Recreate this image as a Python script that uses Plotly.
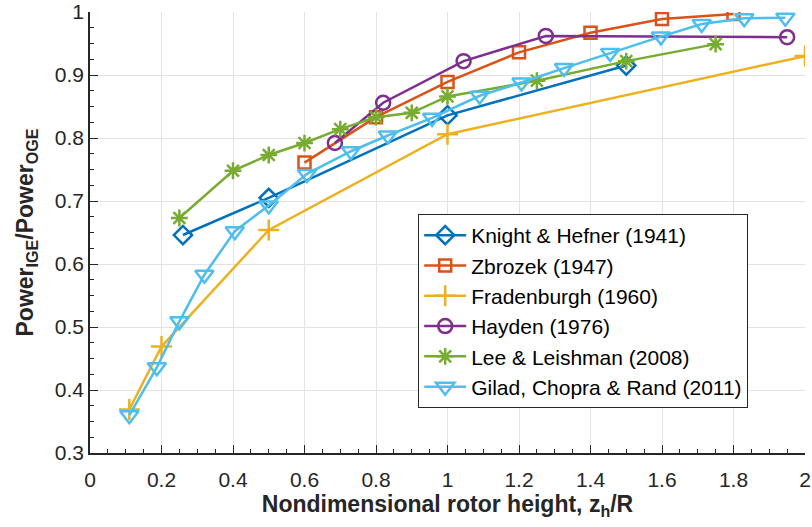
import plotly.graph_objects as go

# ---- data ----
knight_x = [0.26, 0.5, 1.0, 1.5]
knight_y = [0.646, 0.705, 0.836, 0.915]

zbrozek_x = [0.6, 0.8, 1.0, 1.2, 1.4, 1.6, 1.8]
zbrozek_y = [0.761, 0.833, 0.889, 0.936, 0.967, 0.989, 0.997]

frad_x = [0.11, 0.2, 0.5, 1.0, 2.0]
frad_y = [0.369, 0.469, 0.654, 0.806, 0.930]

hayden_x = [0.685, 0.82, 1.045, 1.275, 1.95]
hayden_y = [0.792, 0.856, 0.922, 0.962, 0.960]

lee_x = [0.25, 0.4, 0.5, 0.6, 0.7, 0.8, 0.9, 1.0, 1.25, 1.5, 1.75]
lee_y = [0.673, 0.748, 0.773, 0.792, 0.814, 0.833, 0.840, 0.866, 0.891, 0.922, 0.949]

gilad_x = [0.11, 0.187, 0.25, 0.32, 0.405, 0.5, 0.607, 0.73, 0.833, 0.957,
           1.09, 1.207, 1.326, 1.455, 1.597, 1.711, 1.83, 1.945]
gilad_y = [0.360, 0.436, 0.509, 0.583, 0.652, 0.693, 0.743, 0.779, 0.804, 0.832,
           0.867, 0.888, 0.911, 0.935, 0.961, 0.981, 0.990, 0.991]

names = ["Knight & Hefner (1941)", "Zbrozek (1947)", "Fradenburgh (1960)",
         "Hayden (1976)", "Lee & Leishman (2008)", "Gilad, Chopra & Rand (2011)"]
colors = ["#0072BD", "#D95319", "#EDB120", "#7E2F8E", "#77AC30", "#4DBEEE"]
symbols = ["diamond-open", "square-open", "cross-thin-open", "circle-open",
           "asterisk-open", "triangle-down-open"]
sizes = [14, 12, 15, 14, 14, 16]

series = [(knight_x, knight_y), (zbrozek_x, zbrozek_y), (frad_x, frad_y),
          (hayden_x, hayden_y), (lee_x, lee_y), (gilad_x, gilad_y)]

fig = go.Figure()
for (xs, ys), n, c, s, sz in zip(series, names, colors, symbols, sizes):
    fig.add_trace(go.Scatter(
        x=xs, y=ys, mode="lines+markers", name=n,
        line=dict(color=c, width=2.5),
        marker=dict(symbol=s, size=sz, color=c, line=dict(color=c, width=2.5)),
    ))

axcol = "#262626"
fig.update_layout(
    width=812, height=527,
    margin=dict(l=90, r=7, t=12, b=74, autoexpand=False),
    plot_bgcolor="white", paper_bgcolor="white",
    font=dict(family="Liberation Sans, Arial, sans-serif", size=21, color=axcol),
    showlegend=True,
    legend=dict(
        x=0.459, y=0.322, xanchor="left", yanchor="middle",
        bordercolor="#262626", borderwidth=1, bgcolor="white",
        font=dict(size=21, color="black"),
        tracegroupgap=0, itemwidth=42,
    ),
)
fig.update_xaxes(
    range=[0, 2], dtick=0.2, tick0=0, automargin=True,
    showline=True, linecolor=axcol, linewidth=1.5,
    ticks="inside", ticklen=8, tickcolor=axcol,
    minor=dict(ticks="inside", dtick=0.05, ticklen=4, tickcolor=axcol, showgrid=False),
    showgrid=True, gridcolor="#e3e3e3", gridwidth=1,
    zeroline=False, tickformat="~g", ticklabelstandoff=7,
    tickfont=dict(size=21, color=axcol),
    title=dict(text="<b>Nondimensional rotor height, z<sub>h</sub>/R</b>",
               font=dict(size=23, color=axcol), standoff=2),
)
fig.update_yaxes(
    range=[0.3, 1], dtick=0.1, tick0=0.3, automargin=False,
    showline=True, linecolor=axcol, linewidth=1.5,
    ticks="inside", ticklen=8, tickcolor=axcol,
    minor=dict(ticks="inside", dtick=0.025, ticklen=4, tickcolor=axcol, showgrid=False),
    showgrid=True, gridcolor="#e3e3e3", gridwidth=1,
    zeroline=False, tickformat="~g",
    tickfont=dict(size=21, color=axcol),
    title=dict(text="<b>Power<sub>IGE</sub>/Power<sub>OGE</sub></b>",
               font=dict(size=23, color=axcol)),
)

fig.write_html("out.html")
